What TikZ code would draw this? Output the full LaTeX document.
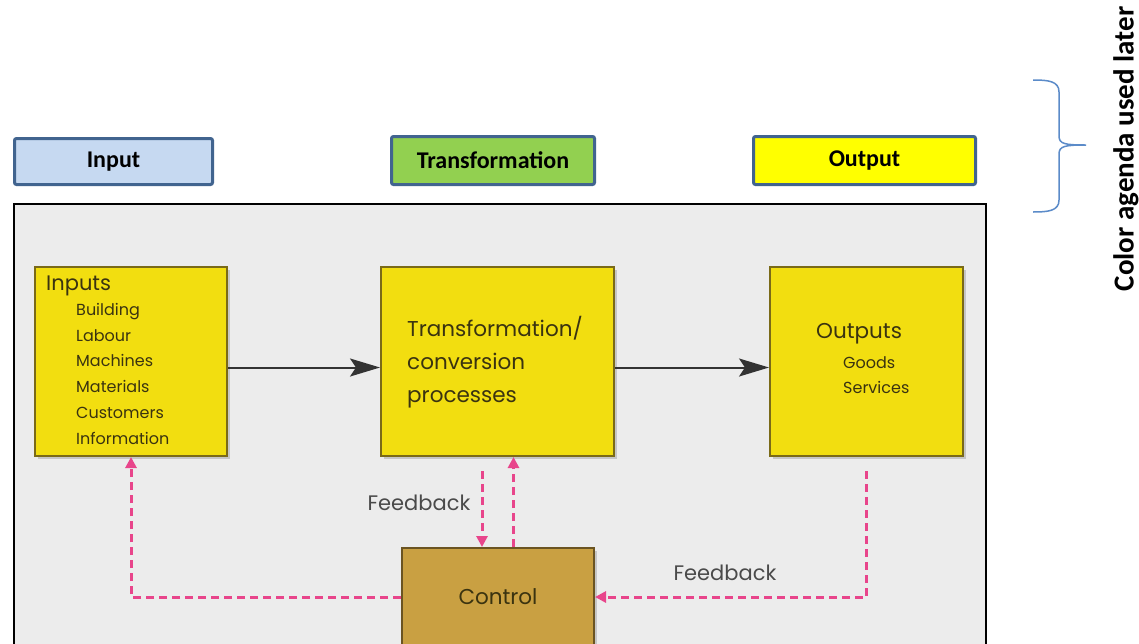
\documentclass[tikz,border=0pt]{standalone}
\usepackage{fontspec}
\setmainfont{Carlito}
\newfontfamily\diafont{Poppins}
\usetikzlibrary{arrows.meta,shadows}
\definecolor{legborder}{HTML}{41648F}
\definecolor{legblue}{HTML}{C6D9F1}
\definecolor{leggreen}{HTML}{92D050}
\definecolor{legyellow}{HTML}{FFFF00}
\definecolor{bracecol}{HTML}{5B8BC9}
\definecolor{bggray}{HTML}{ECECEC}
\definecolor{boxyellow}{HTML}{F2DE10}
\definecolor{boxborder}{HTML}{7A6A18}
\definecolor{ctrlfill}{HTML}{C9A042}
\definecolor{ctrlborder}{HTML}{6B5422}
\definecolor{boxtext}{HTML}{3A3310}
\definecolor{fbpink}{HTML}{E8458B}
\definecolor{fbtext}{HTML}{4A4A4A}
\definecolor{arrowgray}{HTML}{333333}
\begin{document}
\begin{tikzpicture}[x=1pt,y=-1pt,
  legend/.style={draw=legborder, line width=3pt, rounded corners=2pt, anchor=north west,
    font=\bfseries\fontsize{24}{28}\selectfont, inner sep=0pt},
  procbox/.style={draw=boxborder, line width=2pt, fill=boxyellow, anchor=north west,
    drop shadow={opacity=0.35, shadow xshift=3pt, shadow yshift=-3pt}},
  ctrlbox/.style={draw=ctrlborder, line width=2pt, fill=ctrlfill, anchor=north west,
    drop shadow={opacity=0.35, shadow xshift=3pt, shadow yshift=-3pt},
    font=\diafont\fontsize{21.5}{25}\selectfont, text=boxtext},
  flowarrow/.style={draw=arrowgray, line width=2pt, -{Stealth[length=30pt,width=18pt,inset=6pt]}},
  fbline/.style={draw=fbpink, line width=3pt, dash pattern=on 8pt off 5pt,
    -{Triangle[length=11pt,width=11pt]}},
  boxlabel/.style={font=\diafont\fontsize{16}{25.8}\selectfont, text=boxtext, align=left, inner sep=0pt},
  fblabel/.style={font=\diafont\fontsize{21}{25}\selectfont, text=fbtext, inner sep=0pt}
]
\useasboundingbox (0,0) rectangle (1139,643);
\fill[white] (0,0) rectangle (1139,643);

% legend
\node[legend, fill=legblue, minimum width=198, minimum height=46] (lin) at (13,137) {Input};
\node[legend, fill=leggreen, minimum width=203, minimum height=48] (ltr) at (390,135) {Transformation};
\node[legend, fill=legyellow, minimum width=222, minimum height=48] (lout) at (752,135) {Output};

% brace
\draw[bracecol, line width=1.5pt]
  (1033,80) .. controls (1048,80) and (1059,81) .. (1059,92)
  -- (1059,136) .. controls (1059,144) and (1065,145) .. (1086,145)
  (1086,145) .. controls (1065,145) and (1059,146) .. (1059,154)
  -- (1059,200) .. controls (1059,211) and (1048,212) .. (1033,212);
\node[rotate=90, font=\bfseries\fontsize{29}{33}\selectfont, inner sep=0pt] (agenda) at (1126,149) {Color agenda used later};

% frame
\draw[black, line width=2pt, fill=bggray] (14,204) rectangle (986,660);

% process boxes
\node[procbox, minimum width=192, minimum height=189] (inb) at (34,266) {};
\node[procbox, minimum width=233, minimum height=189] (tb) at (380,266) {};
\node[procbox, minimum width=193, minimum height=189] (ob) at (769,266) {};
\node[ctrlbox, minimum width=192, minimum height=98] (ctrl) at (401,547) {Control};

% box texts
\node[boxlabel, anchor=west, font=\diafont\fontsize{21}{25}\selectfont] (intitle) at (46,286) {Inputs};
\node[boxlabel, anchor=north west] (initems) at (76,303) {Building\\Labour\\Machines\\Materials\\Customers\\Information};
\node[boxlabel, anchor=north west, font=\diafont\fontsize{21.5}{33}\selectfont] (trtext) at (407,316) {Transformation/\\conversion\\processes};
\node[boxlabel, anchor=west, font=\diafont\fontsize{21.5}{25}\selectfont] (outtitle) at (816,334) {Outputs};
\node[boxlabel, anchor=north west] (outitems) at (843,356) {Goods\\Services};

% flow arrows
\draw[flowarrow] ([yshift=-6pt]inb.east) -- ([yshift=-6pt]tb.west);
\draw[flowarrow] ([yshift=-6pt]tb.east) -- ([yshift=-6pt]ob.west);

% feedback lines
\draw[fbline] (ctrl.west) -| (inb.south);
\draw[fbline, shorten <=14pt] ([xshift=-15.5pt]tb.south) -- ([xshift=-15.5pt]tb.south |- ctrl.north);
\draw[fbline] ([xshift=16pt]tb.south |- ctrl.north) -- ([xshift=16pt]tb.south);
\draw[fbline] ([yshift=-14pt]ob.south) |- (ctrl.east);

\node[fblabel] (fb1) at (419,503) {Feedback};
\node[fblabel] (fb2) at (725,573) {Feedback};
\end{tikzpicture}
\end{document}
